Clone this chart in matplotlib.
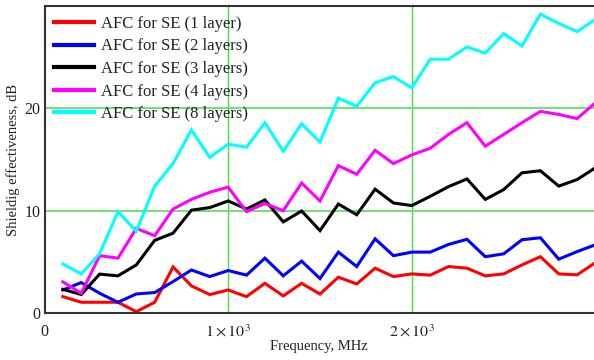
import numpy as np
import matplotlib
matplotlib.use("Agg")
import matplotlib.pyplot as plt

plt.rcParams['font.family'] = ['Liberation Serif', 'DejaVu Serif']
plt.rcParams['mathtext.fontset'] = 'stix'

# frequency points, MHz
freq = np.arange(100, 3001, 100)

se_1 = [1.6, 1.05, 1.05, 1.05, 0.13, 1.05, 4.5, 2.65, 1.8, 2.25,
        1.6, 2.9, 1.67, 2.9, 1.85, 3.5, 2.84, 4.38, 3.56, 3.82,
        3.7, 4.54, 4.38, 3.63, 3.82, 4.7, 5.5, 3.82, 3.73, 4.93]
se_2 = [2.25, 2.97, 1.93, 1.05, 1.86, 2.0, 3.07, 4.2, 3.56, 4.15,
        3.7, 5.36, 3.63, 5.07, 3.37, 5.95, 4.54, 7.25, 5.6, 5.95,
        5.95, 6.7, 7.2, 5.5, 5.78, 7.16, 7.35, 5.26, 6.0, 6.67]
se_3 = [2.32, 1.8, 3.8, 3.63, 4.7, 7.1, 7.8, 10.05, 10.3, 10.95,
        10.16, 11.05, 8.9, 9.97, 8.05, 10.65, 9.6, 12.1, 10.75, 10.5,
        11.4, 12.35, 13.1, 11.1, 12.06, 13.7, 13.9, 12.4, 13.04, 14.2]
se_4 = [3.04, 1.93, 5.6, 5.36, 8.27, 7.55, 10.16, 11.1, 11.8, 12.3,
        9.9, 10.7, 10.0, 12.7, 10.95, 14.4, 13.56, 15.9, 14.6, 15.45,
        16.1, 17.45, 18.6, 16.3, 17.45, 18.6, 19.7, 19.4, 19.0, 20.55]
se_8 = [4.8, 3.82, 5.78, 9.9, 8.0, 12.4, 14.6, 17.9, 15.2, 16.5,
        16.2, 18.6, 15.8, 18.5, 16.7, 21.0, 20.2, 22.5, 23.1, 22.0,
        24.8, 24.8, 26.0, 25.4, 27.3, 26.1, 29.2, 28.3, 27.5, 28.7]

labels = ["AFC for SE (1 layer)", "AFC for SE (2 layers)", "AFC for SE (3 layers)",
          "AFC for SE (4 layers)", "AFC for SE (8 layers)"]
colors = ["#ff0000", "#0000ff", "#000000", "#ff00ff", "#00ffff"]

fig = plt.figure(figsize=(5.94, 3.6), dpi=100)
W, H = 594.0, 360.0
ax = fig.add_axes([44.5 / W, 1 - 313 / H, 551 / W, 307 / H])

for vals, lab, col in zip([se_1, se_2, se_3, se_4, se_8], labels, colors):
    ax.plot(freq, vals, color=col, lw=2.2, label=lab, solid_joinstyle='miter')

ax.set_xlim(0, 3000)
ax.set_ylim(0, 30)
ax.set_xticks([0, 1000, 2000])
ax.set_xticklabels(["0", r"$1\times10^{3}$", r"$2\times10^{3}$"])
ax.set_yticks([0, 10, 20])
ax.tick_params(length=0, labelsize=11.5, colors="#222222")
ax.tick_params(axis='x', pad=8)
ax.tick_params(axis='y', pad=3)

# green grid only at interior ticks
for xv in [1000, 2000]:
    ax.axvline(xv, color="#44dd44", lw=1.0, zorder=0)
for yv in [10, 20]:
    ax.axhline(yv, color="#66e066", lw=1.3, zorder=0)

for s in ["left", "top", "bottom"]:
    ax.spines[s].set_color("#333333")
    ax.spines[s].set_linewidth(1.5)
ax.spines["right"].set_visible(False)

ax.set_xlabel("Frequency, MHz", fontsize=10.5, color="#222222")
ax.set_ylabel("Shieldig effectiveness, dB", fontsize=10.5, color="#222222")
ax.xaxis.set_label_coords((319 - 44.5) / 551, -(340 - 313) / 307)
ax.yaxis.set_label_coords(-(44.5 - 20) / 551, 0.5)

leg = ax.legend(loc="upper left", bbox_to_anchor=(54 / W, 1 - 16 / H),
                bbox_transform=fig.transFigure, frameon=False, fontsize=12,
                handlelength=2.4, handletextpad=0.4, labelspacing=0.39,
                borderpad=0, borderaxespad=0)
for ln in leg.get_lines():
    ln.set_linewidth(3)
for t in leg.get_texts():
    t.set_color("#222222")

fig.savefig("out.png", dpi=100)
